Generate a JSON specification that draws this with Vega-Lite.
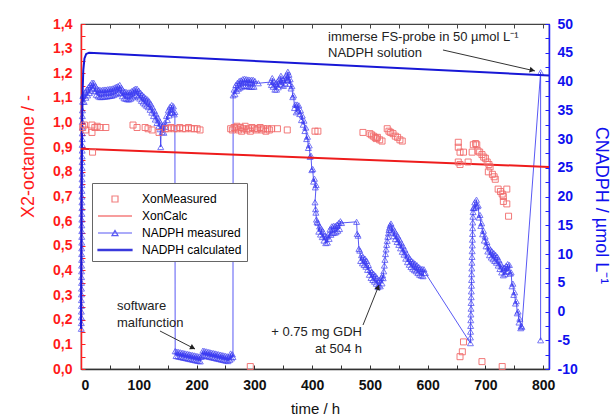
{
"$schema": "https://vega.github.io/schema/vega-lite/v6.json",
"width": 468, "height": 345,
"autosize": {"type": "none"},
"padding": {"left": 81, "top": 24, "right": 67, "bottom": 50},
"background": "white",
"config": {"view": {"stroke": "#444", "strokeWidth": 1.2}, "font": "Liberation Sans", "axis": {"grid": false, "labelFont": "Liberation Sans", "titleFont": "Liberation Sans"}},
"datasets": {
"nm": [
{"t":0.5,"v":-3},{"t":0.55,"v":-2},{"t":0.6,"v":-1},{"t":0.65,"v":0},{"t":0.7,"v":1},{"t":0.75,"v":2},{"t":0.8,"v":3},{"t":0.85,"v":4},{"t":0.9,"v":5},{"t":0.95,"v":6},{"t":1,"v":7},{"t":1.05,"v":8},{"t":1.1,"v":9},{"t":1.15,"v":10},{"t":1.2,"v":11},{"t":1.25,"v":12},{"t":1.3,"v":13},{"t":1.35,"v":14},{"t":1.4,"v":15},{"t":1.45,"v":16},{"t":1.5,"v":17},{"t":1.55,"v":18},{"t":1.6,"v":19},{"t":1.65,"v":20},{"t":1.7,"v":21},{"t":1.75,"v":22},{"t":1.8,"v":23},{"t":1.85,"v":24},{"t":1.9,"v":25},{"t":1.95,"v":26},{"t":2,"v":27},{"t":2.05,"v":28},{"t":2.1,"v":29},{"t":2.15,"v":30},{"t":2.2,"v":31},{"t":2.25,"v":32},{"t":2.3,"v":33},{"t":2.4,"v":34},{"t":2.5,"v":35},{"t":2.8,"v":36.5},{"t":3.2,"v":37.5},
{"t":4,"v":37.6},{"t":5.5,"v":36.45},{"t":7,"v":38.1},{"t":8.5,"v":37.2},{"t":10,"v":38.6},{"t":11.5,"v":37.6},{"t":13,"v":39},{"t":14.5,"v":38},{"t":16,"v":39.4},{"t":17.5,"v":38.4},{"t":19,"v":39.8},{"t":20.5,"v":38.75},{"t":22,"v":39.8},{"t":23.5,"v":38.3},{"t":25,"v":39.2},{"t":26.5,"v":37.7},{"t":28,"v":38.75},{"t":29.5,"v":37.45},{"t":31,"v":38.6},{"t":32.5,"v":37.3},{"t":34,"v":38.5},{"t":35.5,"v":37.3},{"t":37,"v":38.55},{"t":38.5,"v":37.35},{"t":40,"v":38.6},{"t":41.5,"v":37.4},{"t":43,"v":38.6},{"t":44.5,"v":37.4},{"t":46,"v":38.65},{"t":47.5,"v":37.45},{"t":49,"v":38.7},{"t":50.5,"v":37.5},{"t":52,"v":38.75},{"t":53.5,"v":37.55},{"t":55,"v":38.8},{"t":56.5,"v":37.65},{"t":58,"v":38.95},{"t":59.5,"v":37.8},{"t":61,"v":39.1},{"t":62.5,"v":37.95},{"t":64,"v":39.2},{"t":65.5,"v":38.1},{"t":67,"v":39.4},{"t":68.5,"v":37.95},{"t":70,"v":38.9},{"t":71.5,"v":37.45},{"t":73,"v":38.4},{"t":74.5,"v":37.1},{"t":76,"v":38.25},{"t":77.5,"v":37},{"t":79,"v":38.15},{"t":80.5,"v":36.9},{"t":82,"v":38.1},{"t":83.5,"v":36.9},{"t":85,"v":38.15},{"t":86.5,"v":37.05},{"t":88,"v":38.35},{"t":89.5,"v":37.25},{"t":91,"v":38.55},{"t":92.5,"v":37.45},{"t":94,"v":38.75},{"t":95.5,"v":37.65},{"t":97,"v":38.75},{"t":98.5,"v":37.4},{"t":100,"v":38.4},{"t":101.5,"v":37.05},{"t":103,"v":38.05},{"t":104.5,"v":36.65},{"t":106,"v":37.7},{"t":107.5,"v":36.35},{"t":109,"v":37.4},{"t":110.5,"v":36.05},{"t":112,"v":37.1},{"t":113.5,"v":35.8},{"t":115,"v":36.9},{"t":116.5,"v":35.55},{"t":118,"v":36.55},{"t":119.5,"v":35.1},{"t":121,"v":36.05},{"t":122.5,"v":34.6},{"t":124,"v":35.5},{"t":125.5,"v":34},{"t":127,"v":34.9},{"t":128.5,"v":33.4},{"t":130,"v":34.3},{"t":131.5,"v":32.8},{"t":133,"v":33.7},{"t":134.5,"v":32.2},{"t":136,"v":33.1},{"t":137,"v":31.7},{"t":138,"v":28.6},{"t":139,"v":32.6},{"t":140.5,"v":31.2},{"t":142,"v":32.25},{"t":143.5,"v":31.1},{"t":145,"v":32.8},{"t":146.5,"v":32.1},{"t":148,"v":34},{"t":149.5,"v":33.3},{"t":151,"v":35},{"t":152.5,"v":34.1},{"t":154,"v":35.6},{"t":155.5,"v":34.55},{"t":157,"v":35.9},{"t":158.5,"v":34.6},{"t":160,"v":35.7},{"t":161.5,"v":34.3},{"t":162.5,"v":34.7},
{"t":163,"v":-6.9},{"t":164.5,"v":-7.73},{"t":166,"v":-6.97},{"t":167.5,"v":-7.8},{"t":169,"v":-7.03},{"t":170.5,"v":-7.87},{"t":172,"v":-7.1},{"t":173.5,"v":-7.93},{"t":175,"v":-7.17},{"t":176.5,"v":-8},{"t":178,"v":-7.23},{"t":179.5,"v":-8.07},{"t":181,"v":-7.3},{"t":182.5,"v":-8.13},{"t":184,"v":-7.37},{"t":185.5,"v":-8.2},{"t":187,"v":-7.43},{"t":188.5,"v":-8.27},{"t":190,"v":-7.5},{"t":191.5,"v":-8.33},{"t":193,"v":-7.57},{"t":194.5,"v":-8.4},{"t":196,"v":-7.63},{"t":197.5,"v":-8.47},{"t":199,"v":-7.7},{"t":200.5,"v":-8.53},{"t":202,"v":-7.77},{"t":203.5,"v":-8.6},{"t":205,"v":-7.83},{"t":206.5,"v":-8.67},{"t":208,"v":-7.9},{"t":209.5,"v":-7.6},{"t":211,"v":-6.8},{"t":212.5,"v":-7.64},{"t":214,"v":-6.87},{"t":215.5,"v":-7.71},{"t":217,"v":-6.94},{"t":218.5,"v":-7.78},{"t":220,"v":-7.01},{"t":221.5,"v":-7.85},{"t":223,"v":-7.08},{"t":224.5,"v":-7.92},{"t":226,"v":-7.15},{"t":227.5,"v":-7.99},{"t":229,"v":-7.22},{"t":230.5,"v":-8.06},{"t":232,"v":-7.29},{"t":233.5,"v":-8.13},{"t":235,"v":-7.36},{"t":236.5,"v":-8.2},{"t":238,"v":-7.43},{"t":239.5,"v":-8.27},{"t":241,"v":-7.5},{"t":242.5,"v":-8.34},{"t":244,"v":-7.57},{"t":245.5,"v":-8.41},{"t":247,"v":-7.64},{"t":248.5,"v":-8.48},{"t":250,"v":-7.71},{"t":251.5,"v":-8.55},{"t":253,"v":-7.78},{"t":254.5,"v":-8.62},{"t":256,"v":-7.85},{"t":257.5,"v":-8.4},{"t":259,"v":-7.3},{"t":260.5,"v":-8.15},{"t":262,"v":-7.45},{"t":263,"v":-7.9},
{"t":263.3,"v":37.6},{"t":265,"v":38.6},{"t":266.5,"v":37.8},{"t":268,"v":39.4},{"t":269.5,"v":38.4},{"t":271,"v":39.8},{"t":272.5,"v":38.75},{"t":274,"v":40.1},{"t":275.5,"v":38.95},{"t":277,"v":40.2},{"t":278.5,"v":39.1},{"t":280,"v":40.4},{"t":281.5,"v":39.25},{"t":283,"v":40.5},{"t":284.5,"v":39.25},{"t":286,"v":40.4},{"t":287.5,"v":39.2},{"t":289,"v":40.35},{"t":290.5,"v":39.1},{"t":292,"v":40.3},{"t":293.5,"v":39.1},{"t":295,"v":40.3},{"t":296.5,"v":39.1},{"t":298,"v":40.3},{"t":299.5,"v":39.1},{"t":301,"v":40.1},{"t":307,"v":39.7},
{"t":328,"v":39.9},{"t":329.5,"v":39.4},{"t":331,"v":40.6},{"t":332.5,"v":39.1},{"t":334,"v":40},{"t":335.5,"v":38.6},{"t":337,"v":39.6},{"t":338.5,"v":38.6},{"t":340,"v":40},{"t":341.5,"v":39},{"t":343,"v":40.4},{"t":344.5,"v":39.5},{"t":346,"v":41},{"t":347.5,"v":39.45},{"t":349,"v":40.3},{"t":350.5,"v":39.25},{"t":352,"v":40.6},{"t":353.5,"v":39.65},{"t":355,"v":41.1},{"t":356.5,"v":40.2},{"t":358,"v":41.7},{"t":359,"v":40.25},{"t":360,"v":41.2},{"t":361,"v":39.6},{"t":362,"v":40.4},{"t":363.5,"v":38.8},{"t":365,"v":39.2},{"t":366.5,"v":37.3},{"t":368,"v":37.6},{"t":369.5,"v":35.4},{"t":371,"v":36},{"t":372.5,"v":34.65},{"t":374,"v":36},{"t":375.5,"v":34.85},{"t":377,"v":35.85},{"t":378.5,"v":34.35},{"t":380,"v":35},{"t":381.5,"v":33.3},{"t":383,"v":34.1},{"t":384.5,"v":32.5},{"t":386,"v":33.2},{"t":387.5,"v":31.4},{"t":389,"v":32},{"t":390.5,"v":30},{"t":392,"v":30.4},{"t":393.5,"v":28.45},{"t":395,"v":28.9},{"t":396.5,"v":26.9},{"t":398,"v":27.1},{"t":399.5,"v":24.6},{"t":401,"v":24.8},{"t":402.5,"v":22.6},{"t":404,"v":23.1},{"t":405.5,"v":21.6},{"t":407,"v":22},
{"t":405,"v":19},{"t":406,"v":17.8},{"t":406.5,"v":17.2},{"t":407.5,"v":16},{"t":408.5,"v":15.6},{"t":410,"v":15.4},{"t":411.5,"v":13.9},{"t":413,"v":14.8},{"t":414.5,"v":13.4},{"t":416,"v":14.4},{"t":417.5,"v":12.95},{"t":419,"v":13.9},{"t":420.5,"v":12.35},{"t":422,"v":13.2},{"t":423.5,"v":11.9},{"t":425,"v":13},{"t":426.5,"v":12},{"t":428,"v":13.4},{"t":429.5,"v":12.65},{"t":431,"v":14.3},{"t":432.5,"v":13.35},{"t":434,"v":14.8},{"t":435.5,"v":13.65},{"t":437,"v":14.9},{"t":438.5,"v":13.7},{"t":440,"v":14.9},{"t":441.5,"v":13.8},{"t":443,"v":15.1},{"t":444.5,"v":14.05},{"t":446,"v":15.4},{"t":447.5,"v":14.35},{"t":449,"v":15.7},{"t":451,"v":15.4},
{"t":477,"v":15.6},{"t":478,"v":13.5},{"t":479.5,"v":13.2},{"t":481,"v":10.9},{"t":482.5,"v":10.6},{"t":484,"v":8.8},{"t":485.5,"v":9.8},{"t":487,"v":8.4},{"t":488.5,"v":9.45},{"t":490,"v":8.1},{"t":491.5,"v":9.2},{"t":493,"v":7.8},{"t":494.5,"v":8.8},{"t":496,"v":7.25},{"t":497.5,"v":8.1},{"t":499,"v":6.4},{"t":500.5,"v":7.25},{"t":502,"v":5.85},{"t":503.5,"v":6.85},{"t":505,"v":5.5},{"t":506.5,"v":6.55},{"t":508,"v":5.2},{"t":509.5,"v":6.25},{"t":511,"v":4.85},{"t":512.5,"v":5.8},{"t":514,"v":4.25},{"t":515,"v":4.6},{"t":516.5,"v":5.4},{"t":518,"v":4.4},{"t":519.5,"v":5.85},{"t":521,"v":4.9},{"t":522,"v":6.3},{"t":523,"v":5.8},{"t":524,"v":7},{"t":525,"v":8},{"t":526,"v":9},{"t":527,"v":10},{"t":528,"v":10.8},{"t":529,"v":11.6},{"t":530,"v":12.3},{"t":531,"v":13},{"t":532,"v":13.6},{"t":533,"v":14.2},{"t":534,"v":14.6},{"t":535,"v":15},
{"t":536.5,"v":15.3},{"t":538,"v":13.75},{"t":539.5,"v":14.6},{"t":541,"v":13.1},{"t":542.5,"v":14.05},{"t":544,"v":12.6},{"t":545.5,"v":13.55},{"t":547,"v":12.1},{"t":548.5,"v":13.05},{"t":550,"v":11.6},{"t":551.5,"v":12.5},{"t":553,"v":11},{"t":554.5,"v":11.9},{"t":556,"v":10.4},{"t":557.5,"v":11.35},{"t":559,"v":9.9},{"t":560.5,"v":10.75},{"t":562,"v":9.2},{"t":563.5,"v":10.1},{"t":565,"v":8.6},{"t":566.5,"v":9.55},{"t":568,"v":8.15},{"t":569.5,"v":9.15},{"t":571,"v":7.75},{"t":572.5,"v":8.75},{"t":574,"v":7.45},{"t":575.5,"v":8.55},{"t":577,"v":7.2},{"t":578.5,"v":8.3},{"t":580,"v":7},{"t":581.5,"v":8.05},{"t":583,"v":6.7},{"t":584.5,"v":7.75},{"t":586,"v":6.4},{"t":587.5,"v":7.5},{"t":589,"v":6.25},{"t":590.5,"v":7.4},{"t":592,"v":6.15},{"t":593.5,"v":7.35},{"t":596,"v":6.7},
{"t":674,"v":-5.5},{"t":674,"v":-4.5},{"t":674.2,"v":-3.5},{"t":674.4,"v":-2.5},{"t":674.6,"v":-1.5},{"t":674.8,"v":-0.5},{"t":675,"v":0.5},{"t":675.2,"v":1.5},{"t":675.4,"v":2.5},{"t":675.6,"v":3.5},{"t":675.8,"v":4.5},{"t":676,"v":5.5},{"t":676.2,"v":6.5},{"t":676.4,"v":7.5},{"t":676.6,"v":8.5},{"t":676.8,"v":9.5},{"t":677,"v":10.5},{"t":677.2,"v":11.5},{"t":677.4,"v":12.5},{"t":677.6,"v":13.5},{"t":677.8,"v":14.5},{"t":678,"v":15.5},{"t":678.3,"v":16.5},{"t":678.6,"v":17.3},{"t":679,"v":18},
{"t":680,"v":18},{"t":681.5,"v":19},{"t":683,"v":18.1},{"t":684.5,"v":19.45},{"t":686,"v":18.3},{"t":687.5,"v":18.45},{"t":689,"v":16.35},{"t":690.5,"v":16.8},{"t":692,"v":14.9},{"t":693.5,"v":15.35},{"t":695,"v":13.45},{"t":696.5,"v":14.05},{"t":698,"v":12.35},{"t":699.5,"v":13.05},{"t":701,"v":11.35},{"t":702.5,"v":12.1},{"t":704,"v":10.45},{"t":705.5,"v":11.3},{"t":707,"v":9.8},{"t":708.5,"v":10.75},{"t":710,"v":9.4},{"t":711.5,"v":10.45},{"t":713,"v":9.1},{"t":714.5,"v":10.15},{"t":716,"v":8.8},{"t":717.5,"v":9.85},{"t":719,"v":8.5},{"t":720.5,"v":9.5},{"t":722,"v":8},{"t":723.5,"v":8.9},{"t":725,"v":7.4},{"t":726.5,"v":8.3},{"t":728,"v":6.8},{"t":729.5,"v":7.7},{"t":731,"v":6.3},{"t":732.5,"v":7.6},{"t":734,"v":6.5},{"t":735.5,"v":7.9},{"t":737,"v":6.9},{"t":738.5,"v":8.25},{"t":740,"v":7.05},{"t":741.5,"v":8.1},{"t":743,"v":6.6},{"t":744.5,"v":6.8},{"t":746,"v":4.4},{"t":747.5,"v":4.85},{"t":749,"v":2.9},{"t":750.5,"v":3.35},{"t":752,"v":1.4},{"t":753.5,"v":1.8},{"t":755,"v":-0.3},{"t":756.5,"v":0},{"t":758,"v":-1.9},{"t":759.5,"v":-1.25},{"t":761,"v":-2.9},{"t":762,"v":-2.5},{"t":763,"v":-2.7},
{"t":795.5,"v":41.6},{"t":795.5,"v":-5}
],
"nc": [{"t":0,"v":-3},{"t":1,"v":20},{"t":2,"v":33},{"t":3,"v":39},{"t":4,"v":42},{"t":6,"v":44},{"t":9,"v":44.8},{"t":14,"v":45},{"t":810,"v":41.05}],
"xc": [{"t":0,"X":0.894},{"t":810,"X":0.82}],
"xm": [
{"t":3,"X":0.98},{"t":6,"X":0.99},{"t":8,"X":0.97},{"t":19,"X":0.99},{"t":19,"X":0.96},{"t":20,"X":0.88},{"t":24,"X":0.98},{"t":28,"X":0.985},{"t":33,"X":0.98},{"t":43,"X":0.98},
{"t":90,"X":0.99},{"t":97,"X":0.98},{"t":111,"X":0.98},{"t":116,"X":0.975},{"t":123,"X":0.97},{"t":135,"X":0.96},
{"t":146,"X":0.975},{"t":151,"X":0.975},{"t":156,"X":0.98},{"t":161,"X":0.975},{"t":166,"X":0.975},{"t":171,"X":0.98},{"t":176,"X":0.975},{"t":181,"X":0.975},{"t":186,"X":0.98},{"t":191,"X":0.975},{"t":196,"X":0.975},{"t":201,"X":0.975},{"t":206,"X":0.97},
{"t":259,"X":0.975},{"t":262,"X":0.97},{"t":265,"X":0.98},{"t":268,"X":0.975},{"t":270,"X":0.985},{"t":273,"X":0.97},{"t":276,"X":0.98},{"t":278,"X":0.965},{"t":281,"X":0.975},{"t":284,"X":0.985},{"t":287,"X":0.97},{"t":290,"X":0.975},{"t":293,"X":0.965},{"t":296,"X":0.98},{"t":300,"X":0.975},{"t":303,"X":0.97},{"t":306,"X":0.975},{"t":310,"X":0.98},{"t":313,"X":0.97},{"t":316,"X":0.975},{"t":320,"X":0.965},{"t":323,"X":0.975},{"t":326,"X":0.97},{"t":330,"X":0.975},{"t":340,"X":0.975},{"t":357,"X":0.97},
{"t":405,"X":0.965},{"t":410,"X":0.965},
{"t":488,"X":0.96},{"t":500,"X":0.955},{"t":503,"X":0.95},{"t":506,"X":0.945},{"t":509,"X":0.94},{"t":511,"X":0.935},{"t":513,"X":0.94},{"t":517,"X":0.93},{"t":521,"X":0.925},{"t":530,"X":0.975},{"t":533,"X":0.965},{"t":536,"X":0.96},{"t":540,"X":0.955},{"t":544,"X":0.945},{"t":548,"X":0.94},{"t":552,"X":0.93},{"t":556,"X":0.925},
{"t":653,"X":0.92},{"t":653,"X":0.9},{"t":656,"X":0.88},{"t":662,"X":0.88},{"t":653,"X":0.84},{"t":656,"X":0.83},{"t":670,"X":0.84},{"t":677,"X":0.88},{"t":679,"X":0.91},{"t":683,"X":0.915},{"t":685,"X":0.91},{"t":687,"X":0.885},{"t":690,"X":0.88},{"t":694,"X":0.87},{"t":697,"X":0.86},{"t":700,"X":0.855},{"t":703,"X":0.84},{"t":706,"X":0.83},{"t":708,"X":0.82},{"t":705,"X":0.8},{"t":712,"X":0.79},{"t":715,"X":0.78},{"t":717,"X":0.77},{"t":722,"X":0.73},{"t":726,"X":0.72},{"t":729,"X":0.71},{"t":731,"X":0.7},{"t":731,"X":0.68},{"t":737,"X":0.73},{"t":737,"X":0.67},{"t":740,"X":0.62},
{"t":293,"X":0.01},{"t":656,"X":0.05},{"t":660,"X":0.07},{"t":662,"X":0.11},{"t":694,"X":0.03},{"t":729,"X":0.01}
],
"notesL": [{"t":427.5,"v":47.7,"text":"immerse FS-probe in 50 µmol L⁻¹"},{"t":427.5,"v":44.96,"text":"NADPH solution"},{"t":62.3,"v":0.96,"text":"software"},{"t":62.3,"v":-2.0,"text":"malfunction"}],
"notesR": [{"t":486.3,"v":-3.57,"text":"+ 0.75 mg GDH"},{"t":486.3,"v":-6.52,"text":"at 504 h"}],
"arrows": [{"t":626.5,"v":45.48,"t2":785.7,"v2":41.83},{"t":136.7,"v":-3.39,"t2":197.3,"v2":-6.52},{"t":488.1,"v":-2.35,"t2":515.8,"v2":4.61}],
"head1": [{"t":781,"v":41.95}],
"head2": [{"t":193.5,"v":-6.33}],
"head3": [{"t":514.2,"v":4.21}]
},
"layer": [
{
"encoding": {
"x": {"field": "t", "type": "quantitative", "scale": {"domain": [0, 810], "nice": false, "zero": false},
"axis": {"orient": "top", "labels": false, "title": null, "values": [0,50,100,150,200,250,300,350,400,450,500,550,600,650,700,750,800], "tickSize": -4, "tickColor": "#444", "domainColor": "#444"}},
"y": {"field": "v", "type": "quantitative", "scale": {"domain": [-10, 50], "nice": false, "zero": false},
"axis": {"orient": "right", "values": [-10,-7.5,-5,-2.5,0,2.5,5,7.5,10,12.5,15,17.5,20,22.5,25,27.5,30,32.5,35,37.5,40,42.5,45,47.5,50],
"labelExpr": "abs(datum.value % 5) < 0.001 ? '' + datum.value : ''", "tickSize": -4, "labelPadding": 12,
"domainColor": "#2020ff", "domainWidth": 1.5, "tickColor": "#2020ff", "labelColor": "#1010ee", "labelFontSize": 14, "labelFontWeight": "bold",
"title": "CNADPH  /  µmol L⁻¹", "titleColor": "#1010ee", "titleFontSize": 18, "titleFontWeight": "normal", "titleX": 51, "titleY": 181, "titleAngle": 90, "titleAlign": "center", "titleBaseline": "middle"}}
},
"layer": [
{"data": {"name": "nm"}, "mark": {"type": "line", "strokeWidth": 1, "opacity": 0.85}, "encoding": {"order": {"value": null}, "color": {"datum": "NADPH measured"}}},
{"data": {"name": "nm"}, "mark": {"type": "point", "filled": false, "shape": "M-0.3,0.26L0,-0.26L0.3,0.26Z", "size": 400, "strokeWidth": 1}, "encoding": {"color": {"datum": "NADPH measured"}}},
{"data": {"name": "nc"}, "mark": {"type": "line", "strokeWidth": 2}, "encoding": {"color": {"datum": "NADPH calculated"}}},
{"data": {"name": "arrows"}, "mark": {"type": "rule", "color": "#333", "strokeWidth": 1}, "encoding": {"x2": {"field": "t2"}, "y2": {"field": "v2"}}},
{"data": {"name": "head1"}, "mark": {"type": "point", "shape": "triangle-up", "filled": true, "color": "#222", "size": 35, "angle": 103, "opacity": 1}, "encoding": {}},
{"data": {"name": "head2"}, "mark": {"type": "point", "shape": "triangle-up", "filled": true, "color": "#222", "size": 35, "angle": 117, "opacity": 1}, "encoding": {}},
{"data": {"name": "head3"}, "mark": {"type": "point", "shape": "triangle-up", "filled": true, "color": "#222", "size": 35, "angle": 22, "opacity": 1}, "encoding": {}},
{"data": {"name": "notesL"}, "mark": {"type": "text", "align": "left", "baseline": "middle", "fontSize": 13, "font": "Liberation Sans", "color": "#222"}, "encoding": {"text": {"field": "text"}}},
{"data": {"name": "notesR"}, "mark": {"type": "text", "align": "right", "baseline": "middle", "fontSize": 13, "font": "Liberation Sans", "color": "#222"}, "encoding": {"text": {"field": "text"}}}
]
},
{
"encoding": {
"x": {"field": "t", "type": "quantitative", "scale": {"domain": [0, 810], "nice": false, "zero": false},
"axis": {"orient": "bottom", "values": [0,50,100,150,200,250,300,350,400,450,500,550,600,650,700,750,800], "labelExpr": "datum.value % 100 == 0 ? '' + datum.value : ''",
"tickSize": -4, "labelPadding": 13, "tickColor": "#333", "domainColor": "#333", "domainWidth": 1.3, "labelColor": "#111", "labelFontSize": 14, "labelFontWeight": "bold",
"title": "time  /  h", "titleFontSize": 15, "titleFontWeight": "normal", "titleColor": "#111", "titleY": 39, "titleBaseline": "middle"}},
"y": {"field": "X", "type": "quantitative", "scale": {"domain": [0, 1.4], "nice": false, "zero": false},
"axis": {"orient": "left", "values": [0,0.05,0.1,0.15,0.2,0.25,0.3,0.35,0.4,0.45,0.5,0.55,0.6,0.65,0.7,0.75,0.8,0.85,0.9,0.95,1,1.05,1.1,1.15,1.2,1.25,1.3,1.35,1.4],
"labelExpr": "abs(datum.value*10 - round(datum.value*10)) < 0.001 ? replace(format(datum.value, '.1f'), '.', ',') : ''",
"tickSize": -4, "labelPadding": 13, "domainColor": "#ff2020", "domainWidth": 1.5, "tickColor": "#ff2020", "labelColor": "#ff1a1a", "labelFontSize": 14, "labelFontWeight": "bold",
"title": "X2-octanone  /  -", "titleColor": "#ff1a1a", "titleFontSize": 18, "titleFontWeight": "normal", "titleX": -53, "titleY": 132, "titleAngle": -90, "titleAlign": "center", "titleBaseline": "middle"}}
},
"layer": [
{"data": {"name": "xc"}, "mark": {"type": "line", "strokeWidth": 2}, "encoding": {"color": {"datum": "XonCalc"}}},
{"data": {"name": "xm"}, "mark": {"type": "point", "filled": false, "size": 400, "strokeWidth": 0.9, "opacity": 1},
"encoding": {
"color": {"datum": "XonMeasured", "type": "nominal",
"scale": {"domain": ["XonMeasured", "XonCalc", "NADPH measured", "NADPH calculated"], "range": ["#f06a6a", "#ee1c1c", "#3c3cf2", "#1818d6"]},
"legend": {"title": null, "orient": "none", "legendX": 11, "legendY": 159, "direction": "vertical", "padding": 5, "strokeColor": "#666", "fillColor": "#fff", "labelFont": "Liberation Sans", "labelFontSize": 12, "labelColor": "#000", "symbolSize": 400, "symbolStrokeWidth": 1.2, "symbolOffset": 7, "labelOffset": 16, "rowPadding": 0}},
"shape": {"datum": "XonMeasured", "type": "nominal",
"scale": {"domain": ["XonMeasured", "XonCalc", "NADPH measured", "NADPH calculated"], "range": ["M-0.3,-0.3L0.3,-0.3L0.3,0.3L-0.3,0.3Z", "M-1.7,0L1.7,0", "M-1.7,0L1.7,0M-0.3,0.26L0,-0.26L0.3,0.26Z", "M-1.7,-0.06L1.7,-0.06L1.7,0.06L-1.7,0.06Z"]},
"legend": {"title": null, "orient": "none", "legendX": 11, "legendY": 159, "direction": "vertical", "padding": 5, "strokeColor": "#666", "fillColor": "#fff", "labelFont": "Liberation Sans", "labelFontSize": 12, "labelColor": "#000", "symbolSize": 400, "symbolStrokeWidth": 1.2, "symbolOffset": 7, "labelOffset": 16, "rowPadding": 0}}
}}
]
}
],
"resolve": {"scale": {"y": "independent"}, "axis": {"x": "independent", "y": "independent"}}
}
